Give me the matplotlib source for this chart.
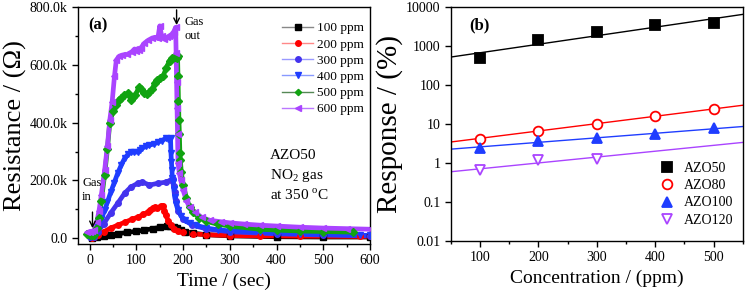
import matplotlib
matplotlib.use('Agg')
import matplotlib.pyplot as plt
from matplotlib.lines import Line2D
from matplotlib.ticker import MultipleLocator, FuncFormatter, FixedLocator, NullLocator
import numpy as np

plt.rcParams['font.family'] = ['Liberation Serif', 'DejaVu Serif']
plt.rcParams['mathtext.fontset'] = 'custom'
plt.rcParams['mathtext.rm'] = 'Liberation Serif'

# ---- panel (a): resistance vs time, values in kOhm ----
t_100 = [5, 15, 30, 45, 60, 80, 100, 117, 135, 150, 165, 172, 180, 186, 195, 205, 221, 250, 300, 400, 500, 600]
r_100 = [1, 3, 6, 10, 15, 20, 24, 28, 33, 37, 42, 43, 40, 35, 28, 22, 17, 12, 8, 5, 4, 4]

t_200 = [5, 10, 17, 30, 45, 60, 75, 90, 103, 115, 124, 130, 135, 140, 145, 152, 157, 160, 163, 168, 173,
         180, 189, 200, 221, 250, 300, 364, 450, 578, 600]
r_200 = [2, 3, 10, 22, 35, 45, 55, 65, 73, 82, 90, 98, 105, 107, 106, 110, 112, 95, 80, 60, 45,
         32, 24, 20, 15, 12, 9, 8, 7, 6, 6]

t_300 = [0, 10, 17, 30, 45, 60, 75, 88, 103, 113, 128, 146, 163, 173, 178, 180, 182, 185, 190, 200,
         220, 250, 300, 400, 500, 600]
r_300 = [3, 5, 20, 50, 87, 121, 156, 177, 190, 194, 184, 190, 194, 201, 205, 180, 160, 130, 95, 65,
         45, 32, 22, 15, 11, 8]

t_400 = [0, 5, 10, 17, 25, 32, 38, 45, 52, 60, 68, 75, 82, 88, 95, 103, 108, 113, 120, 128, 137, 146,
         155, 163, 168, 173, 174, 175, 176, 177, 178, 180, 182, 185, 189, 195, 203, 215, 227, 250, 275,
         300, 364, 400, 450, 500, 578, 600]
r_400 = [5, 8, 12, 38, 65, 97, 125, 159, 190, 225, 255, 277, 290, 298, 298, 298, 305, 312, 318, 322,
         326, 332, 338, 346, 344, 346, 294, 263, 235, 208, 194, 170, 142, 118, 97, 78, 62, 52, 45, 35,
         29, 25, 21, 18, 15, 13, 10, 10]

t_500 = [-5, 0, 5, 10, 15, 20, 25, 32, 38, 43, 50, 56, 62, 67, 74, 81, 88, 93, 98, 105, 110, 117, 122,
         128, 134, 139, 143, 150, 157, 164, 171, 177, 182, 186, 188, 189, 190, 191, 192, 193, 194, 196,
         200, 207, 214, 221, 235, 250, 275, 300, 364, 400, 450, 500, 563]
r_500 = [15, 12, 10, 12, 35, 70, 130, 220, 310, 400, 440, 462, 478, 485, 495, 502, 480, 490, 495, 522,
         515, 502, 500, 505, 515, 537, 547, 555, 560, 590, 615, 625, 628, 625, 630, 560, 475, 410, 360,
         295, 270, 230, 185, 140, 107, 90, 70, 58, 48, 42, 31, 28, 25, 23, 21]

t_600 = [-5, 0, 5, 10, 15, 20, 25, 32, 38, 43, 48, 53, 57, 63, 70, 80, 90, 96, 100, 105, 110, 117, 125,
         134, 140, 146, 150, 154, 160, 165, 170, 175, 180, 184, 185, 186, 187, 188, 189, 192, 195, 200,
         207, 214, 225, 240, 257, 280, 300, 330, 364, 400, 450, 500, 550, 600]
r_600 = [20, 22, 24, 28, 55, 95, 150, 235, 320, 408, 470, 560, 617, 630, 634, 636, 645, 655, 648, 650,
         660, 675, 685, 693, 695, 693, 735, 700, 690, 695, 700, 705, 715, 730, 640, 540, 450, 360, 260,
         225, 200, 166, 130, 107, 90, 72, 62, 57, 53, 49, 45, 42, 38, 35, 33, 31]

series_a = [
    ('100 ppm', t_100, r_100, '#000000', '#888888', 's'),
    ('200 ppm', t_200, r_200, '#ff0000', '#ff8888', 'o'),
    ('300 ppm', t_300, r_300, '#4433ee', '#9999ff', 'o'),
    ('400 ppm', t_400, r_400, '#1f3dff', '#8899ff', 'v'),
    ('500 ppm', t_500, r_500, '#11a311', '#558855', 'D'),
    ('600 ppm', t_600, r_600, '#aa44ff', '#bb77ff', '<'),
]

# ---- panel (b): response vs concentration ----
conc = [100, 200, 300, 400, 500]
azo50 = [480, 1450, 2300, 3400, 3900]
azo80 = [4.2, 6.8, 10.3, 16, 24]
azo100 = [2.5, 3.7, 4.3, 5.5, 7.8]
conc120 = [100, 200, 300]
azo120 = [0.65, 1.2, 1.3]

fig = plt.figure(figsize=(7.45, 2.95), dpi=100)
ax1 = fig.add_axes([0.1047, 0.173, 0.392, 0.803])
ax2 = fig.add_axes([0.605, 0.183, 0.392, 0.793])

handles = []
for name, t, r, c, lc, m in series_a:
    rr = np.array(r) * 1000
    ax1.plot(t, rr, color=c, lw=3.4, solid_capstyle='round', solid_joinstyle='round', zorder=2)
    ax1.plot(t, rr, ls='none', marker=m, ms=4, color=c, zorder=3)
    handles.append(Line2D([0], [0], color=lc, lw=1, marker=m, ms=4 if m != 'D' else 3.2,
                          markerfacecolor=c, markeredgecolor=c, label=name))

ax1.set_xlim(-25, 600)
ax1.set_ylim(-20000, 800000)
ax1.xaxis.set_major_locator(MultipleLocator(100))
ax1.xaxis.set_minor_locator(MultipleLocator(50))
ax1.yaxis.set_major_locator(MultipleLocator(200000))
ax1.yaxis.set_minor_locator(MultipleLocator(100000))
ax1.yaxis.set_major_formatter(FuncFormatter(lambda v, p: f"{v/1000:.1f}k" if v != 0 else "0.0"))
ax1.set_xlabel('Time / (sec)', fontsize=14, labelpad=4)
ax1.set_ylabel('Resistance / (Ω)', fontsize=19, labelpad=2)
ax1.legend(handles=handles, loc='upper right', bbox_to_anchor=(1.01, 0.975), frameon=False,
           fontsize=9.5, handlelength=2.3, handletextpad=0.3, labelspacing=0.3, borderaxespad=0.3)

ax1.text(0.034, 0.924, '(a)', transform=ax1.transAxes, fontsize=12, fontweight='bold', va='center')
ax1.text(-16, 190000, 'Gas', fontsize=9, va='center')
ax1.text(-16, 142000, 'in', fontsize=9, va='center')
ax1.annotate('', xy=(6, 25000), xytext=(6, 100000),
             arrowprops=dict(arrowstyle='->', color='black', lw=1))
ax1.text(203, 748000, 'Gas', fontsize=9, va='center')
ax1.text(203, 700000, 'out', fontsize=9, va='center')
ax1.annotate('', xy=(186, 728000), xytext=(186, 800000),
             arrowprops=dict(arrowstyle='->', color='black', lw=1))
ax1.text(385, 287000, 'AZO50', fontsize=11, va='center')
ax1.text(385, 218000, 'NO$_2$ gas', fontsize=11, va='center')
ax1.text(385, 149000, 'at 350 $^{\\mathrm{o}}$C', fontsize=11, va='center')

# panel (b)
ax2.set_yscale('log')
xfit = np.array([50, 550])
fits = [
    ('AZO50', conc, azo50, '#000000', 's', True),
    ('AZO80', conc, azo80, '#ff0000', 'o', False),
    ('AZO100', conc, azo100, '#1f3dff', '^', True),
    ('AZO120', conc120, azo120, '#aa44ff', 'v', False),
]
for name, x, y, c, m, filled in fits:
    k, b = np.polyfit(x, np.log10(y), 1)
    ax2.plot(xfit, 10 ** (k * xfit + b), color=c, lw=1, zorder=2)
    ax2.plot(x, y, ls='none', marker=m, ms=7, color=c, markerfacecolor=c if filled else 'white',
             markeredgewidth=1.3, label=name, zorder=3)

ax2.set_xlim(50, 550)
ax2.set_ylim(0.01, 10000)
ax2.xaxis.set_major_locator(MultipleLocator(100))
ax2.xaxis.set_minor_locator(MultipleLocator(50))
ax2.yaxis.set_major_locator(FixedLocator([0.01, 0.1, 1, 10, 100, 1000, 10000]))
ax2.yaxis.set_minor_locator(NullLocator())
ax2.yaxis.set_major_formatter(FuncFormatter(lambda v, p: f"{v:g}" if v < 1 else f"{int(round(v))}"))
ax2.set_xlabel('Concentration / (ppm)', fontsize=14, labelpad=4)
ax2.set_ylabel('Response / (%)', fontsize=21, labelpad=2)
ax2.legend(loc='lower right', bbox_to_anchor=(1.0, 0.02), frameon=False, fontsize=10,
           handlelength=1.2, handletextpad=0.6, labelspacing=0.3, borderaxespad=0.3)
ax2.text(0.065, 0.923, '(b)', transform=ax2.transAxes, fontsize=12, fontweight='bold', va='center')

for ax in (ax1, ax2):
    ax.tick_params(which='both', direction='out', labelsize=10, top=False, right=False)
    ax.tick_params(which='major', length=4, width=1)
    ax.tick_params(which='minor', length=2.5, width=1)
    for s in ax.spines.values():
        s.set_linewidth(1)

fig.savefig('out.png', dpi=100)
